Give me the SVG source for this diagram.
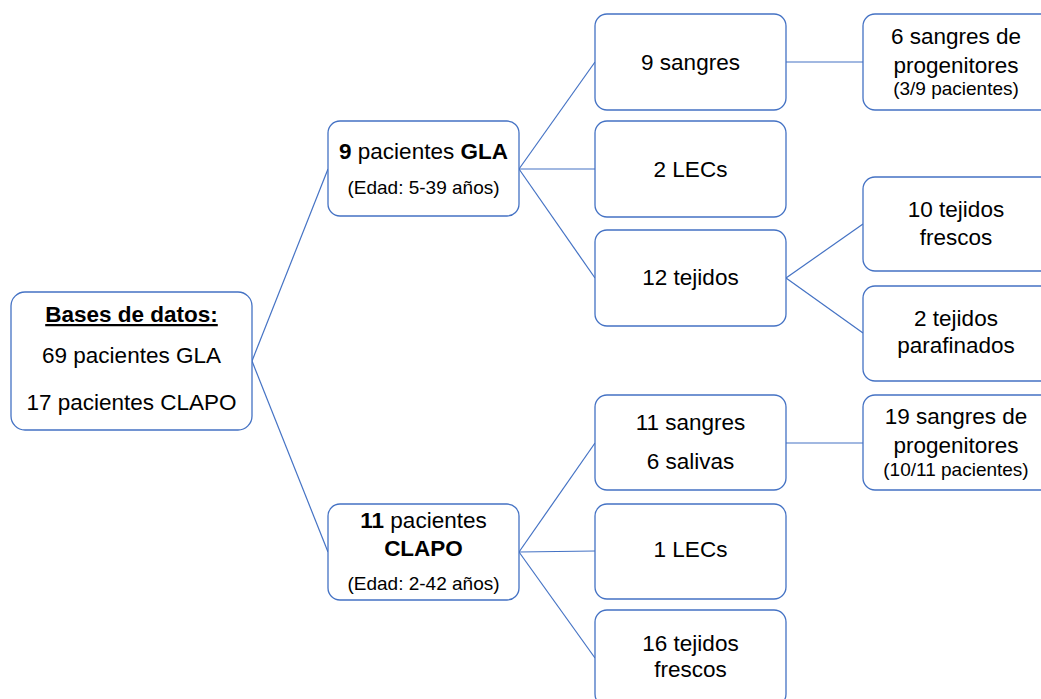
<svg xmlns="http://www.w3.org/2000/svg" width="1041" height="699" viewBox="0 0 1041 699">
<style>
.box{fill:#fff;stroke:#4472C4;stroke-width:1.3}
.c{stroke:#4472C4;stroke-width:1.2;fill:none}
text{font-family:"Liberation Sans",Arial,sans-serif;fill:#000;text-anchor:middle}
.m{font-size:22.5px}
.s{font-size:19px}
.b{font-weight:bold}
</style>
<rect width="1041" height="699" fill="#fff"/>
<g id="connectors">
<line class="c" x1="252" y1="361" x2="328" y2="169"/>
<line class="c" x1="252" y1="361" x2="328" y2="552"/>
<line class="c" x1="519" y1="169" x2="595" y2="62"/>
<line class="c" x1="519" y1="169" x2="595" y2="169"/>
<line class="c" x1="519" y1="169" x2="595" y2="278"/>
<line class="c" x1="519" y1="552" x2="595" y2="443"/>
<line class="c" x1="519" y1="552" x2="595" y2="551"/>
<line class="c" x1="519" y1="552" x2="595" y2="658"/>
<line class="c" x1="786" y1="62" x2="863" y2="62"/>
<line class="c" x1="786" y1="278" x2="863" y2="224"/>
<line class="c" x1="786" y1="278" x2="863" y2="333"/>
<line class="c" x1="786" y1="443" x2="863" y2="443"/>
</g>
<g id="bases">
<rect class="box" x="11" y="292" width="241" height="138" rx="14"/>
<text class="m b" x="131.5" y="322" text-decoration="underline">Bases de datos:</text>
<text class="m" x="131.5" y="363">69 pacientes GLA</text>
<text class="m" x="131.5" y="410">17 pacientes CLAPO</text>
</g>
<g id="gla">
<rect class="box" x="328" y="121" width="191" height="95" rx="12"/>
<text class="m" x="423.5" y="159"><tspan class="b">9</tspan> pacientes <tspan class="b">GLA</tspan></text>
<text class="s" x="423.5" y="194">(Edad: 5-39 años)</text>
</g>
<g id="clapo">
<rect class="box" x="328" y="504" width="191" height="96" rx="12"/>
<text class="m" x="423.5" y="528"><tspan class="b">11</tspan> pacientes</text>
<text class="m b" x="423.5" y="556">CLAPO</text>
<text class="s" x="423.5" y="590">(Edad: 2-42 años)</text>
</g>
<g id="sangres9">
<rect class="box" x="595" y="14" width="191" height="96" rx="12"/>
<text class="m" x="690.5" y="70">9 sangres</text>
</g>
<g id="lecs2">
<rect class="box" x="595" y="121" width="191" height="96" rx="12"/>
<text class="m" x="690.5" y="177">2 LECs</text>
</g>
<g id="tejidos12">
<rect class="box" x="595" y="230" width="191" height="96" rx="12"/>
<text class="m" x="690.5" y="285">12 tejidos</text>
</g>
<g id="sangres11">
<rect class="box" x="595" y="395" width="191" height="95" rx="12"/>
<text class="m" x="690.5" y="430">11 sangres</text>
<text class="m" x="690.5" y="469">6 salivas</text>
</g>
<g id="lecs1">
<rect class="box" x="595" y="504" width="191" height="95" rx="12"/>
<text class="m" x="690.5" y="557">1 LECs</text>
</g>
<g id="tejidos16">
<rect class="box" x="595" y="610" width="191" height="96" rx="12"/>
<text class="m" x="690.5" y="651">16 tejidos</text>
<text class="m" x="690.5" y="677">frescos</text>
</g>
<g id="progen6">
<rect class="box" x="863" y="14" width="191" height="96" rx="12"/>
<text class="m" x="956" y="44">6 sangres de</text>
<text class="m" x="956" y="73">progenitores</text>
<text class="s" x="956" y="95">(3/9 pacientes)</text>
</g>
<g id="frescos10">
<rect class="box" x="863" y="177" width="191" height="94" rx="12"/>
<text class="m" x="956" y="217">10 tejidos</text>
<text class="m" x="956" y="245">frescos</text>
</g>
<g id="parafinados2">
<rect class="box" x="863" y="286" width="191" height="95" rx="12"/>
<text class="m" x="956" y="326">2 tejidos</text>
<text class="m" x="956" y="353">parafinados</text>
</g>
<g id="progen19">
<rect class="box" x="863" y="395" width="191" height="95" rx="12"/>
<text class="m" x="956" y="424">19 sangres de</text>
<text class="m" x="956" y="453">progenitores</text>
<text class="s" x="956" y="476">(10/11 pacientes)</text>
</g>
</svg>
